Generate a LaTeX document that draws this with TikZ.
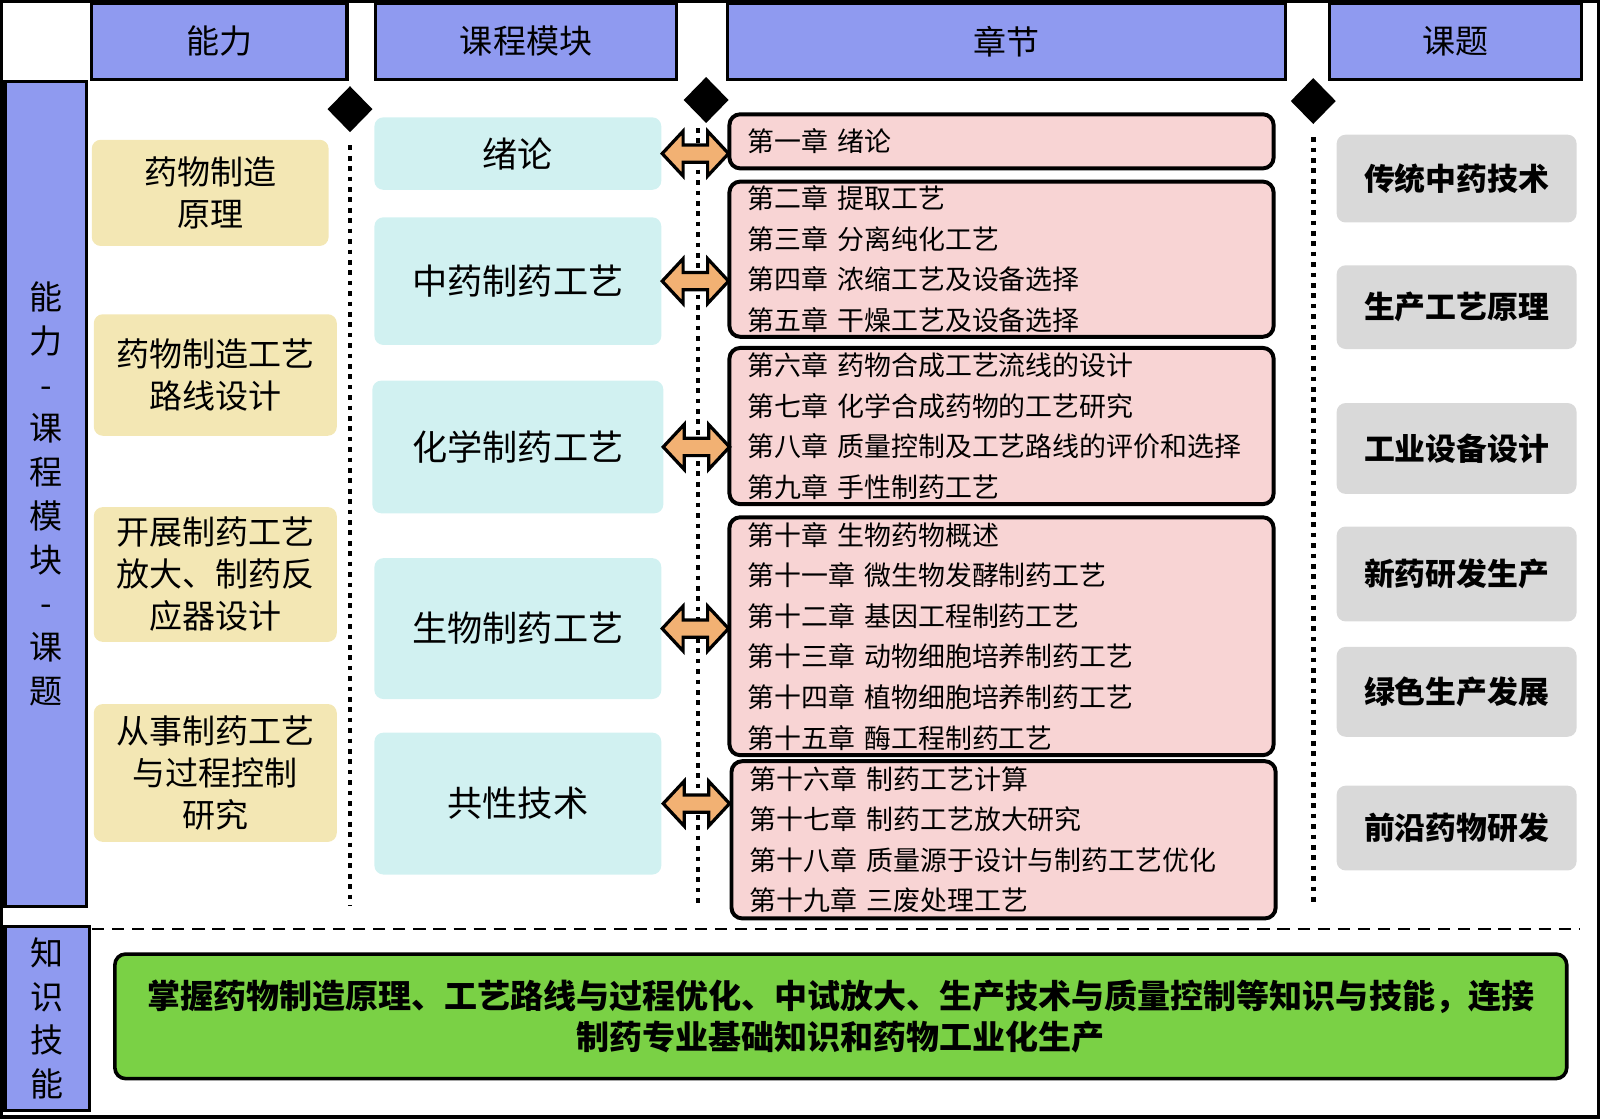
\documentclass[tikz,border=0pt]{standalone}
\usepackage{fontspec}
\setmainfont{Noto Sans CJK SC}
\usetikzlibrary{shapes.geometric,calc}
\definecolor{headblue}{RGB}{143,154,240}
\definecolor{abilityyellow}{RGB}{243,231,180}
\definecolor{modulecyan}{RGB}{209,241,241}
\definecolor{chapterpink}{RGB}{248,212,212}
\definecolor{topicgray}{RGB}{217,217,217}
\definecolor{skillgreen}{RGB}{122,209,69}
\definecolor{arroworange}{RGB}{242,177,115}
\begin{document}
\begin{tikzpicture}[x=0.01cm, y=-0.01cm,
  every node/.style={inner sep=0pt, outer sep=0pt},
  head/.style={draw, line width=0.9pt, fill=headblue, minimum height=0.75cm, font=\fontsize{9.2}{11}\selectfont},
  sidebar/.style={draw, line width=0.9pt, fill=headblue, align=center, font=\fontsize{9.2}{12.2}\selectfont},
  ability/.style={fill=abilityyellow, rounded corners=2.5pt, align=center, font=\fontsize{9.2}{11.7}\selectfont},
  module/.style={fill=modulecyan, rounded corners=2.5pt, minimum width=2.81cm, font=\fontsize{9.8}{12}\selectfont},
  chapter/.style={draw, line width=1.1pt, fill=chapterpink, rounded corners=3pt, minimum width=5.33cm, text width=4.97cm, align=left, font=\fontsize{7.5}{11.3}\selectfont},
  topic/.style={fill=topicgray, rounded corners=2.5pt, minimum width=2.35cm, font=\fontsize{8.6}{10}\selectfont\bfseries},
  skill/.style={draw, line width=1pt, fill=skillgreen, rounded corners=3pt, align=center, font=\fontsize{9.2}{11.4}\selectfont\bfseries},
  sepmark/.style={diamond, fill=black, minimum width=0.44cm, minimum height=0.45cm},
  dotline/.style={line width=1.3pt, dash pattern=on 1.3pt off 1.6pt},
  dashline/.style={line width=0.6pt, dash pattern=on 3.4pt off 2.2pt},
  dblarrow/.pic={\draw[fill=arroworange, line width=0.9pt, line join=miter] (-32.5,0) -- (-12,-22) -- (-12,-8.5) -- (12,-8.5) -- (12,-22) -- (32.5,0) -- (12,22) -- (12,8.5) -- (-12,8.5) -- (-12,22) -- cycle;}]
\useasboundingbox (0,0) rectangle (1568,1096);

\node[head, minimum width=2.50cm] (hability) at (215,40.5) {能力};
\node[head, minimum width=2.95cm] (hmodule) at (515.5,40.5) {课程模块};
\node[head, minimum width=5.47cm] (hchapter) at (986.5,40.5) {章节};
\node[head, minimum width=2.47cm] (htopic) at (1426.5,40.5) {课题};

\node[sidebar, minimum width=0.80cm, minimum height=8.08cm] (side) at (45,484) {能\\力\\-\\课\\程\\模\\块\\-\\课\\题};
\node[sidebar, minimum width=0.83cm, minimum height=1.80cm] (know) at (46.5,998) {知\\识\\技\\能};

\node[sepmark] (d1) at (343,107) {};
\node[sepmark] (d2) at (692,98) {};
\node[sepmark] (d3) at (1287,99) {};
\coordinate (lineend) at (0,888);
\draw[dotline] ([yshift=-0.13cm]d1.south) -- (d1.south |- lineend);
\draw[dotline] ([xshift=-0.08cm,yshift=-0.05cm]d2.south) -- ([xshift=-0.08cm]d2.south |- lineend);
\draw[dotline] ([yshift=-0.13cm]d3.south) -- (d3.south |- lineend);

\node[ability, minimum width=2.32cm, minimum height=1.04cm] (a1) at (206,189) {药物制造\\原理};
\node[ability, minimum width=2.38cm, minimum height=1.19cm] (a2) at (211,367.5) {药物制造工艺\\路线设计};
\node[ability, minimum width=2.38cm, minimum height=1.32cm] (a3) at (211,563) {开展制药工艺\\放大、制药反\\应器设计};
\node[ability, minimum width=2.38cm, minimum height=1.35cm] (a4) at (211,757.5) {从事制药工艺\\与过程控制\\研究};

\node[module, minimum height=0.71cm] (m1) at (507.5,150.5) {绪论};
\node[module, minimum height=1.25cm] (m2) at (507.5,275.5) {中药制药工艺};
\node[module, minimum height=1.30cm, minimum width=2.85cm] (m3) at (507.5,438) {化学制药工艺};
\node[module, minimum height=1.38cm] (m4) at (507.5,616) {生物制药工艺};
\node[module, minimum height=1.39cm] (m5) at (507.5,787.5) {共性技术};

\node[chapter, minimum height=0.53cm] (c1) at (981.5,138.5) {第一章 绪论};
\node[chapter, minimum height=1.52cm] (c2) at (981.5,254) {第二章 提取工艺\\第三章 分离纯化工艺\\第四章 浓缩工艺及设备选择\\第五章 干燥工艺及设备选择};
\node[chapter, minimum height=1.53cm] (c3) at (981.5,417.5) {第六章 药物合成工艺流线的设计\\第七章 化学合成药物的工艺研究\\第八章 质量控制及工艺路线的评价和选择\\第九章 手性制药工艺};
\node[chapter, minimum height=2.33cm] (c4) at (981.5,623.5) {第十章 生物药物概述\\第十一章 微生物发酵制药工艺\\第十二章 基因工程制药工艺\\第十三章 动物细胞培养制药工艺\\第十四章 植物细胞培养制药工艺\\第十五章 酶工程制药工艺};
\node[chapter, minimum height=1.54cm] (c5) at (983.5,823) {第十六章 制药工艺计算\\第十七章 制药工艺放大研究\\第十八章 质量源于设计与制药工艺优化\\第十九章 三废处理工艺};

\pic at ($(m1.east)!0.5!(m1.east -| c1.west)$) {dblarrow};
\pic at ($(m2.east)!0.5!(m2.east -| c2.west)$) {dblarrow};
\pic at ($(m3.east)!0.5!(m3.east -| c3.west)$) {dblarrow};
\pic at ($(m4.east)!0.5!(m4.east -| c4.west)$) {dblarrow};
\pic at ($(m5.east)!0.5!(m5.east -| c5.west)$) {dblarrow};

\node[topic, minimum height=0.86cm] (t1) at (1427.5,175) {传统中药技术};
\node[topic, minimum height=0.82cm] (t2) at (1427.5,301) {生产工艺原理};
\node[topic, minimum height=0.89cm] (t3) at (1427.5,439.5) {工业设备设计};
\node[topic, minimum height=0.93cm] (t4) at (1427.5,562.5) {新药研发生产};
\node[topic, minimum height=0.88cm] (t5) at (1427.5,678) {绿色生产发展};
\node[topic, minimum height=0.83cm] (t6) at (1427.5,811.5) {前沿药物研发};

\draw[dashline] (90,910) -- (1548,910);
\node[skill, minimum width=14.22cm, minimum height=1.22cm] (goal) at (824,996) {掌握药物制造原理、工艺路线与过程优化、中试放大、生产技术与质量控制等知识与技能，连接\\制药专业基础知识和药物工业化生产};

\draw[line width=1pt] (1.5,1.5) rectangle (1566.5,1094.5);
\end{tikzpicture}
\end{document}
